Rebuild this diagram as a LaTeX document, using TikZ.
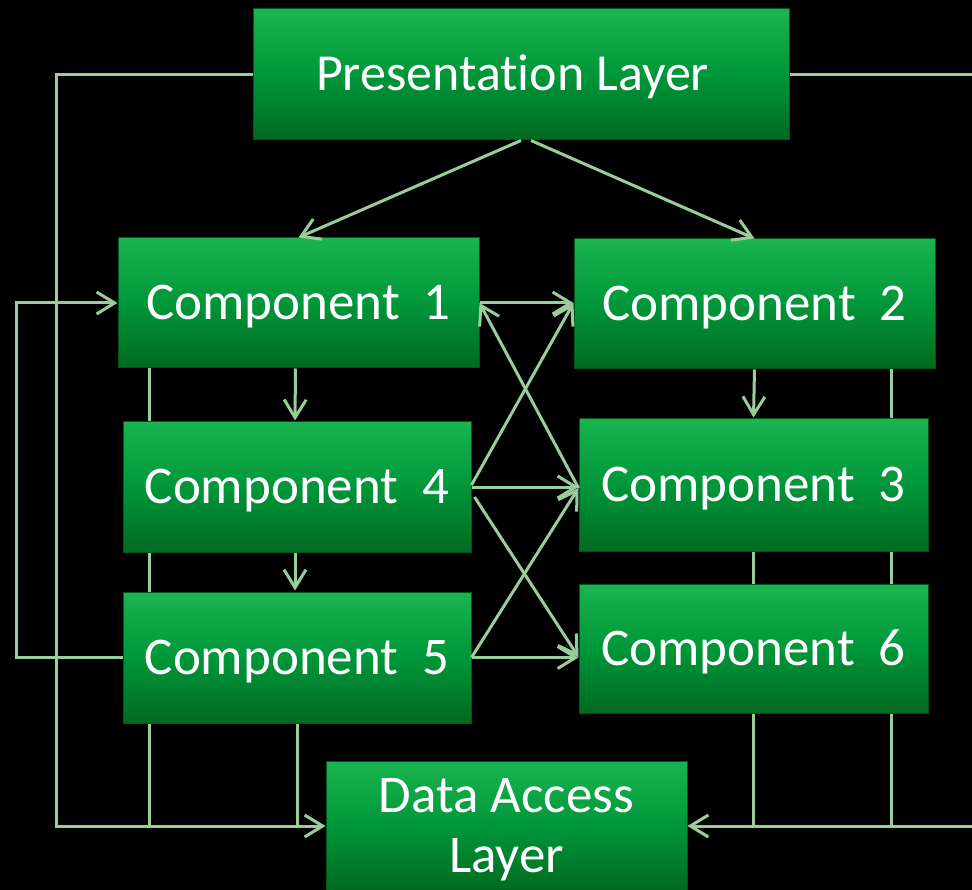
\documentclass[tikz,border=0pt]{standalone}
\usepackage{fontspec}
\setmainfont{Carlito}[Ligatures=NoCommon]
\usetikzlibrary{arrows.meta,calc}
\definecolor{lncol}{RGB}{155,204,155}
\definecolor{gtop}{RGB}{26,180,80}
\definecolor{gmid}{RGB}{0,150,58}
\definecolor{gbot}{RGB}{0,106,32}
\definecolor{gedge}{RGB}{0,85,25}
\begin{document}
\begin{tikzpicture}[x=1pt,y=-1pt,
  box/.style={rectangle, draw=gedge, line width=1pt, top color=gtop, bottom color=gbot, middle color=gmid, inner sep=0pt},
  txt/.style={text=white, font=\fontsize{53}{62}\selectfont, text height=33pt, text depth=0pt},
  ptxt/.style={text=white, font=\fontsize{52}{61}\selectfont, text height=33pt, text depth=0pt},
  btxt/.style={text=white, font=\fontsize{53}{62}\selectfont, inner sep=0pt, anchor=base},
  ln/.style={draw=lncol, line width=3pt},
  arr/.style={ln, -{Straight Barb[length=18pt,width=22pt]}}]
\clip (0,0) rectangle (972,890);
\fill[black] (0,0) rectangle (972,890);

\node[box, ptxt, minimum width=536pt, minimum height=131pt] (pres) at (521,74.5) {Presentation Layer\kern17pt};
\node[box, txt, minimum width=361pt, minimum height=130pt] (c1) at (298.5,303) {Component~~1};
\node[box, txt, minimum width=361pt, minimum height=130pt] (c2) at (754.5,304) {Component~~2};
\node[box, txt, minimum width=348pt, minimum height=130pt] (c4) at (297,487) {Component~~4};
\node[box, txt, minimum width=349pt, minimum height=132pt] (c3) at (753.5,485) {Component~~3};
\node[box, txt, minimum width=348pt, minimum height=131pt] (c5) at (297,657.5) {Component~~5};
\node[box, txt, minimum width=349pt, minimum height=129pt] (c6) at (753.5,648.5) {Component~~6};
\node[box, minimum width=361pt, minimum height=130pt] (dal) at (506.5,826) {};
\node[btxt] (dalA) at ($(dal.center)+(0,-13.5)$) {Data Access};
\node[btxt] (dalB) at ($(dal.center)+(0,46.5)$) {Layer};

\coordinate (L) at (56,826);
\coordinate (R) at (990,826);
\coordinate (lp) at (16,303);
\coordinate (la) at (149,826);
\coordinate (ra) at (891,826);

\draw[arr] (pres.west) -| (L) -- (dal.west);
\draw[arr] (pres.east) -| (R) -- (dal.east);
\draw[arr] (pres.south) -- (c1.north);
\draw[arr] ($(pres.south)+(10,0)$) -- (c2.north);
\draw[arr] ($(c1.south)+(-3,0)$) -- ($(c4.north)+(-2,-1)$);
\draw[arr] ($(c4.south)+(-2,0)$) -- ($(c5.north)+(-2,-1)$);
\draw[arr] (c2.south) -- ($(c3.north)+(0,-1)$);

\draw[ln] (c1.south -| la) -- (c4.north -| la);
\draw[ln] (c4.south -| la) -- (c5.north -| la);
\draw[ln] (c5.south -| la) -- (la);
\draw[ln] (c5.south) -- (c5.south |- la);
\draw[ln] (c2.south -| ra) -- (c3.north -| ra);
\draw[ln] (c3.south -| ra) -- (c6.north -| ra);
\draw[ln] (c6.south -| ra) -- (ra);
\draw[ln] (c3.south) -- (c6.north);
\draw[ln] (c6.south) -- (c6.south |- ra);

\draw[arr] (c5.west) -| (lp) -- (c1.west);

\draw[arr] (c1.east) -- (c1.east -| c2.west);
\draw[arr] ($(c3.west)+(0,3)$) -- (c1.east);
\draw[arr] ($(c4.east)+(0,-2)$) -- ($(c2.west)+(0,-1)$);
\draw[arr] (c4.east) -- (c4.east -| c3.west);
\draw[arr] ($(c4.east)+(3,10)$) -- ($(c6.west)+(0,8.5)$);
\draw[arr] (c5.east) -- ($(c3.west)+(0,3)$);
\draw[arr] (c5.east) -- (c5.east -| c6.west);
\end{tikzpicture}
\end{document}
